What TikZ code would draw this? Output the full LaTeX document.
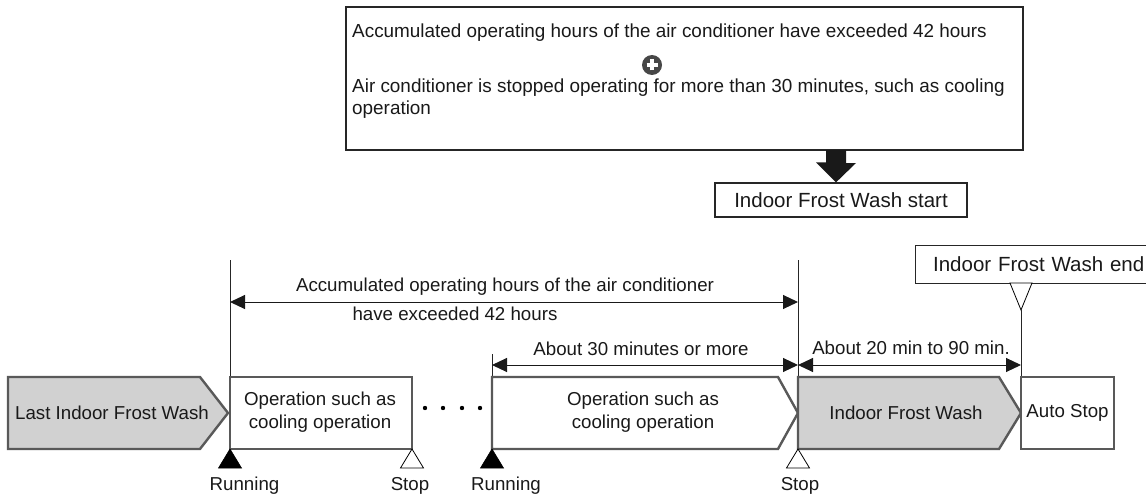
\documentclass[tikz,border=0pt]{standalone}
\usepackage{fontspec}
\setmainfont{Liberation Sans}
\usetikzlibrary{arrows.meta}
\begin{document}
\begin{tikzpicture}[x=1pt,y=-1pt,
  txt/.style={font=\fontsize{18.7}{23}\selectfont, inner sep=0pt, text=black!90},
  toptxt/.style={font=\fontsize{18.9}{23}\selectfont, inner sep=0pt, text=black!90},
  bigtxt/.style={font=\fontsize{20.5}{24}\selectfont, text=black!90},
  frame/.style={draw=black!85, line width=1.2pt},
  proc/.style={draw=black!65, line width=2.4pt, line join=miter},
  gray fill/.style={fill=black!18},
  vline/.style={draw=black!85, line width=1pt},
  dim/.style={draw=black!90, line width=1pt, {Triangle[length=15pt,width=14pt]}-{Triangle[length=15pt,width=14pt]}},
  runtri/.style={fill=black, draw=black, line width=0.6pt},
  stoptri/.style={fill=white, draw=black, line width=0.8pt},
]
\useasboundingbox (0,0) rectangle (1146,495);

% ---- top condition box ----
\draw[frame] (346,7) rectangle (1023,150);
\node[toptxt, anchor=west] (c1) at (352,33) {Accumulated operating hours of the air conditioner have exceeded 42 hours};
\node[circle, fill=black!72, minimum size=20pt, inner sep=0pt] (plus) at (652,65) {};
\draw[white, line width=3.2pt] ([xshift=-5.5pt]plus.center) -- ([xshift=5.5pt]plus.center);
\draw[white, line width=3.2pt] ([yshift=-5.5pt]plus.center) -- ([yshift=5.5pt]plus.center);
\node[toptxt, anchor=west] (c2) at (352,88) {Air conditioner is stopped operating for more than 30 minutes, such as cooling};
\node[toptxt, anchor=west] (c3) at (352,110) {operation};

% ---- big arrow and start box ----
\node[frame, bigtxt, minimum width=252pt, minimum height=34pt, inner sep=0pt] (start) at (841,200) {Indoor Frost Wash start};
\coordinate (arrtop) at (836,150);
\fill[black!90] (arrtop) ++(-10,0) -- ++(20,0) -- ++(0,13) -- ++(10,0) -- (start.north -| arrtop) -- ++(-20,-20) -- ++(10,0) -- cycle;

% ---- end box ----
\node[frame, bigtxt, anchor=north west, minimum width=240pt, minimum height=38pt, text width=225pt, inner sep=0pt, align=left] (endbox) at (915,245) {\hspace*{10pt}Indoor Frost Wash end};
\coordinate (endapex) at (1021,310);
\draw[stoptri] (1010,283) -- (1032,283) -- (endapex) -- cycle;

% ---- vertical lines ----
\coordinate (v1t) at (230,260);
\coordinate (v1b) at (230,377);
\coordinate (v2t) at (492,354);
\coordinate (v2b) at (492,377);
\coordinate (v3t) at (798,260);
\coordinate (v3b) at (798,449);
\coordinate (v4b) at (1021,377);
\draw[vline] (v1t) -- (v1b);
\draw[vline] (v2t) -- (v2b);
\draw[vline] (v3t) -- (v3b);
\draw[vline] (endapex) -- (v4b);

% ---- dimension arrows ----
\draw[dim] (230,302) -- (798,302);
\node[txt] (d1a) at (505,287) {Accumulated operating hours of the air conditioner};
\node[txt] (d1b) at (455,314) {have exceeded 42 hours};
\draw[dim] (492,365) -- (798,365);
\node[txt] (d2) at (641,349) {About 30 minutes or more};
\draw[dim] (798,365) -- (1021,365);
\node[txt] (d3) at (911,348) {About 20 min to 90 min.};

% ---- process blocks ----
\draw[proc, gray fill] (8,377) -- (200,377) -- (228,413) -- (200,449) -- (8,449) -- cycle;
\node[txt] (last) at (112,413) {Last Indoor Frost Wash};

\draw[proc, fill=white] (230,377) rectangle (412,449);
\node[txt, align=center] (op1) at (320,412) {Operation such as\\cooling operation};

\foreach \x in {425,443,462,480} \fill[black] (\x,408) circle (2.2pt);

\draw[proc, fill=white] (492,377) -- (778,377) -- (798,413) -- (778,449) -- (492,449) -- cycle;
\node[txt, align=center] (op2) at (643,412) {Operation such as\\cooling operation};

\draw[proc, gray fill] (798,377) -- (999,377) -- (1021,413) -- (999,449) -- (798,449) -- cycle;
\node[txt] (ifw) at (906,413) {Indoor Frost Wash};

\draw[proc, fill=white] (1021,377) rectangle (1114,449);
\node[txt] (auto) at (1067.5,413) {Auto Stop};

% ---- running / stop markers ----
\draw[runtri] (230,449) -- (241.5,468) -- (218.5,468) -- cycle;
\draw[stoptri] (412,449) -- (423.5,468) -- (400.5,468) -- cycle;
\draw[runtri] (492,449) -- (503.5,468) -- (480.5,468) -- cycle;
\draw[stoptri] (798,449) -- (809.5,468) -- (786.5,468) -- cycle;
\node[txt] (run1) at (244.5,486) {Running};
\node[txt] (stop1) at (410,486) {Stop};
\node[txt] (run2) at (506,486) {Running};
\node[txt] (stop2) at (800,486) {Stop};
\end{tikzpicture}
\end{document}
